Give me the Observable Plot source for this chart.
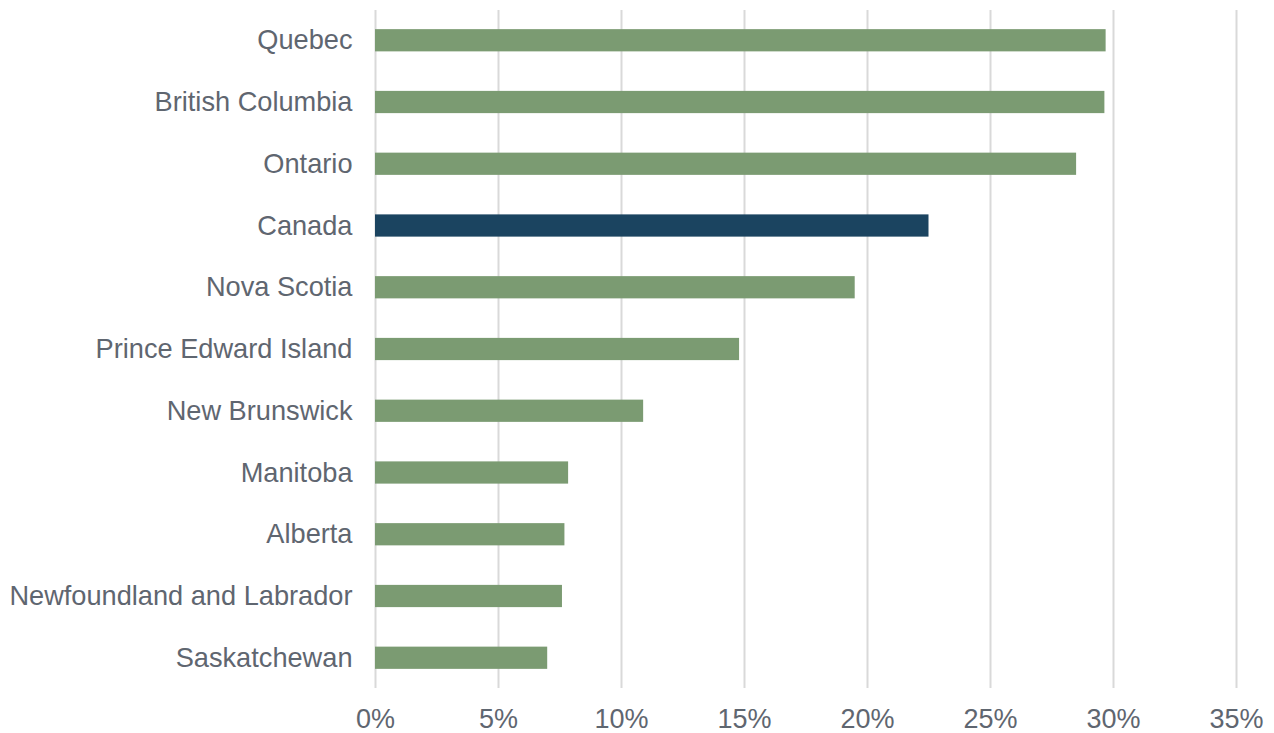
<!DOCTYPE html>
<html>
<head>
<meta charset="utf-8">
<script src="https://cdn.jsdelivr.net/npm/d3@7"></script>
<script src="https://cdn.jsdelivr.net/npm/@observablehq/plot@0.6"></script>
<style>
  html, body { margin: 0; padding: 0; background: #ffffff; }
  #chart svg { display: block; overflow: visible; }
</style>
</head>
<body>
<div id="chart"></div>
<script>
const provinces = ["Quebec", "British Columbia", "Ontario", "Canada", "Nova Scotia", "Prince Edward Island", "New Brunswick", "Manitoba", "Alberta", "Newfoundland and Labrador", "Saskatchewan"];
const shares = [29.7, 29.65, 28.5, 22.5, 19.5, 14.8, 10.9, 7.85, 7.7, 7.6, 7.0];
const xTicks = [0, 5, 10, 15, 20, 25, 30, 35];

const data = provinces.map((p, i) => ({ province: p, share: shares[i] }));
const textColor = "#5f6670";

const chart = Plot.plot({
  width: 1274,
  height: 733,
  marginTop: 10,
  marginBottom: 45,
  marginLeft: 375,
  marginRight: 38,
  style: { fontFamily: "'Liberation Sans', Arial, sans-serif", color: textColor, background: "#ffffff" },
  x: { domain: [0, 35], ticks: xTicks, label: null },
  y: { domain: provinces, paddingInner: 0.64, paddingOuter: 0.31, round: false, label: null },
  marks: [
    Plot.gridX(xTicks, { stroke: "#d9d9d9", strokeOpacity: 1, strokeWidth: 2 }),
    Plot.barX(data, {
      x: "share",
      y: "province",
      fill: d => d.province === "Canada" ? "#1b4460" : "#7b9b72"
    }),
    Plot.axisX({ ticks: xTicks, tickSize: 0, tickPadding: 20, tickFormat: d => d + "%", fontSize: 27, label: null, fill: textColor }),
    Plot.axisY({ tickSize: 0, tickPadding: 23, fontSize: 27.2, label: null, fill: textColor })
  ]
});
document.getElementById("chart").appendChild(chart);
</script>
</body>
</html>
